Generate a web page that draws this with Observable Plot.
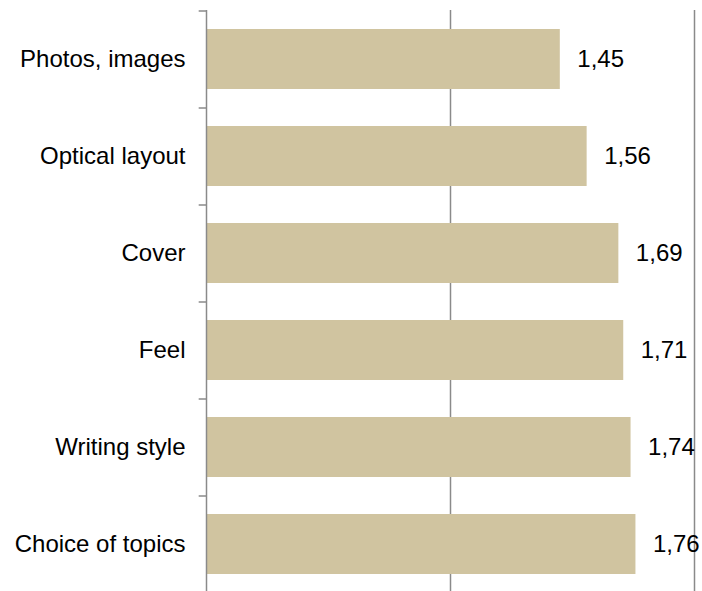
<!DOCTYPE html>
<html>
<head>
<meta charset="utf-8">
<script src="https://cdn.jsdelivr.net/npm/d3@7"></script>
<script src="https://cdn.jsdelivr.net/npm/@observablehq/plot@0.6"></script>
<style>
  html, body { margin: 0; padding: 0; background: #fff; }
  #chart svg { display: block; }
</style>
</head>
<body>
<div id="chart"></div>
<script>
const categories = ["Photos, images", "Optical layout", "Cover", "Feel", "Writing style", "Choice of topics"];
const values = [1.45, 1.56, 1.69, 1.71, 1.74, 1.76];
const gridValues = [1, 2];

const data = categories.map((c, i) => ({category: c, value: values[i]}));

const W = 702, H = 591;
const yRange = [10.5, 592.5];
const step = (yRange[1] - yRange[0]) / categories.length;
const fmt = v => v.toFixed(2).replace(".", ",");
const gray = "#8a8a8a";

const chart = Plot.plot({
  width: W,
  height: H,
  marginLeft: 206,
  marginRight: 8,
  marginTop: 10,
  marginBottom: 0,
  style: {fontFamily: "Liberation Sans, Arial, sans-serif", fontSize: "24px", color: "#000", background: "#fff"},
  x: {domain: [0, 2], axis: null},
  y: {domain: categories, range: yRange, paddingInner: 0.385, paddingOuter: 0.1925, label: null},
  marks: [
    Plot.ruleX(gridValues, {x: d => d, stroke: gray, strokeWidth: 1.5}),
    Plot.barX(data, {x: "value", y: "category", fill: "#D0C4A0"}),
    Plot.ruleX([0], {stroke: gray, strokeWidth: 1.5}),
    Plot.ruleY(categories, {y: d => d, x1: 0, x2: -0.03, dy: -step / 2, stroke: gray, strokeWidth: 1.5}),
    Plot.text(data, {x: "value", y: "category", text: d => fmt(d.value), textAnchor: "start", dx: 17, fill: "#000", fontSize: 24}),
    Plot.axisY({tickSize: 0, tickPadding: 21, fontSize: 24, label: null})
  ]
});
document.getElementById("chart").appendChild(chart);
</script>
</body>
</html>
